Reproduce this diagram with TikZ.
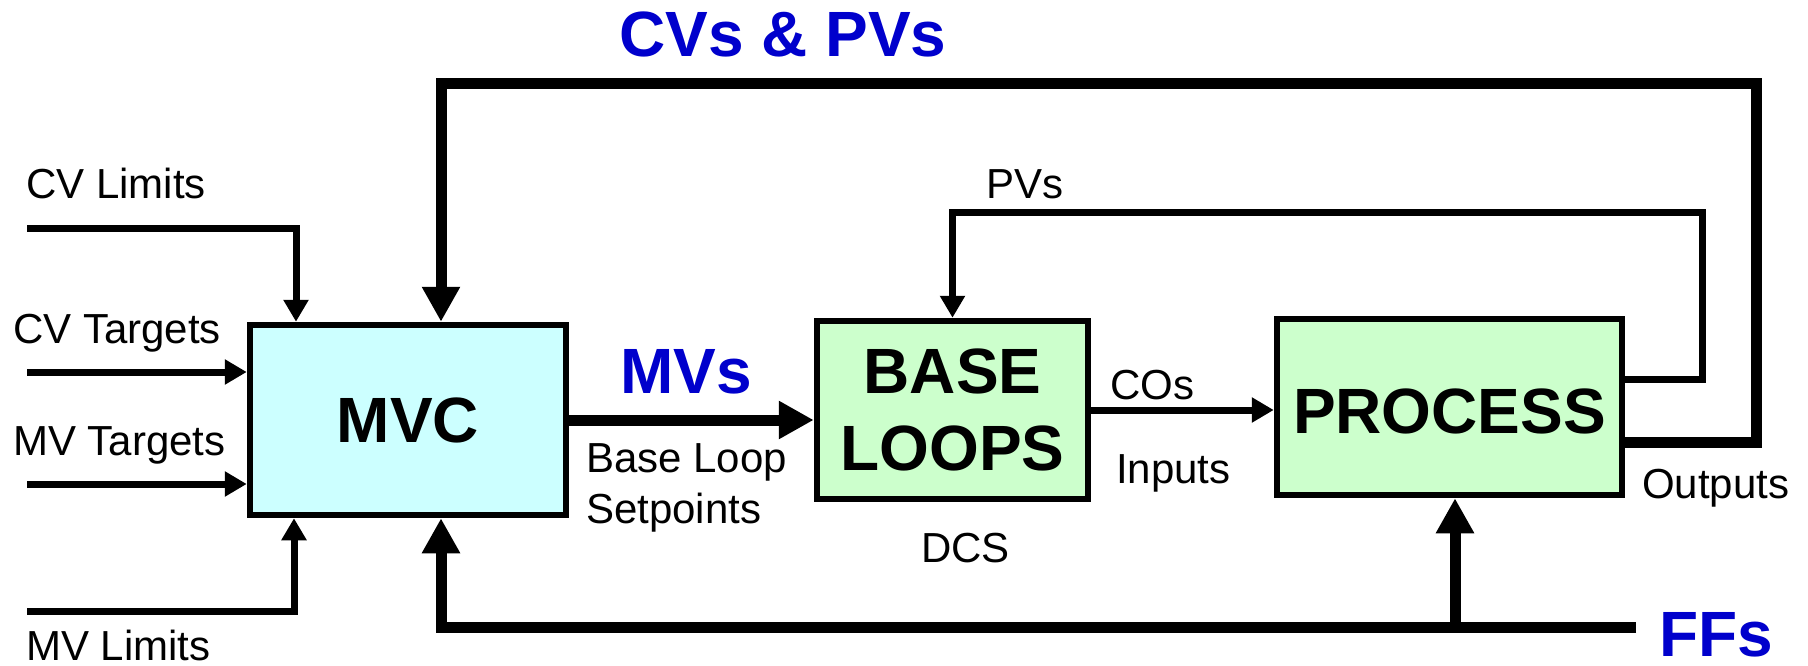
\documentclass[tikz,border=0pt]{standalone}
\usepackage{fontspec}
\setmainfont{Liberation Sans}
\usepackage{xcolor}
\usepackage{tikz}
\usetikzlibrary{positioning, arrows.meta, calc}
\definecolor{mvcyan}{RGB}{204, 255, 255}
\definecolor{dcsgreen}{RGB}{204, 255, 204}
\definecolor{sigblue}{RGB}{0, 0, 204}
\newcommand{\lblfont}{\fontsize{42}{51}\selectfont}
\newcommand{\blkfont}{\fontsize{64}{77}\selectfont\bfseries}
\tikzset{
  block/.style={
    draw=black, line width=6.5pt,
    inner sep=0pt, font=\blkfont, align=center,
  },
  sig/.style={draw=black, line width=7pt, -{Triangle[length=22pt, width=24pt]}},
  bus/.style={draw=black, line width=11pt, -{Triangle[length=35pt, width=36pt]}},
  lbl/.style={font=\lblfont, inner sep=0pt, anchor=base west},
  tag/.style={font=\blkfont, text=sigblue, inner sep=0pt, anchor=base west},
}

\begin{document}
\begin{tikzpicture}[x=1pt, y=-1pt]
\useasboundingbox (0,0) rectangle (1808,666);

\node[block, fill=mvcyan, minimum width=316pt, minimum height=190pt] (mvc) at (408,420) {MVC};
\node[block, fill=dcsgreen, minimum width=271pt, minimum height=178pt,
      right=244.5pt of mvc, yshift=10pt] (base) {BASE\\LOOPS};
\node[block, fill=dcsgreen, minimum width=345pt, minimum height=176pt, text height=54pt,
      right=182.5pt of base, yshift=3pt] (proc) {PROCESS};

\node[lbl] (cvlim) at (26,199) {CV Limits};
\node[lbl] (cvtgt) at (13,343) {CV Targets};
\node[lbl] (mvtgt) at (13,455) {MV Targets};
\node[lbl] (mvlim) at (26,660) {MV Limits};
\node[lbl, anchor=north west, align=left] (blsp) at (586,443) {Base Loop\\Setpoints};
\node[lbl] (dcs) at (921,562) {DCS};
\node[lbl] (cos) at (1110,399) {COs};
\node[lbl] (inp) at (1116,483) {Inputs};
\node[lbl] (pvs) at (986,199) {PVs};
\node[lbl] (outp) at (1642,498) {Outputs};
\node[tag] (mvs) at (620,393) {MVs};
\node[tag] (cvpv) at (619,57) {CVs \& PVs};
\node[tag] (ffs) at (1659,656) {FFs};

\coordinate (cvlA) at (27,228);
\coordinate (cvlB) at (296,228);
\coordinate (cvtA) at (27,372);
\coordinate (mvtA) at (27,484);
\coordinate (mvlA) at (27,611);
\coordinate (mvlB) at (294,611);
\coordinate (topR) at (1756,84);
\coordinate (topL) at (441,84);
\coordinate (pvR) at (1702,212);
\coordinate (botR) at (1636,627);
\coordinate (botL) at (441,627);
\coordinate (ffUp) at (1455,627);

% inputs into MVC
\draw[sig] (cvlA) -- (cvlB) -- (cvlB |- mvc.north);
\draw[sig] (cvtA) -- (cvtA -| mvc.west);
\draw[sig] (mvtA) -- (mvtA -| mvc.west);
\draw[sig] (mvlA) -- (mvlB) -- (mvlB |- mvc.south);

% forward path
\draw[bus] (mvc.east) -- (mvc.east -| base.west);
\draw[sig] (base.east) -- (base.east -| proc.west);

% feedback loops
\draw[sig] (proc.east |- 0,379) -| (pvR) -- (base.north |- pvR) -- (base.north);
\draw[bus] (proc.east |- 0,442) -| (topR) -- (topL) -- (topL |- mvc.north);
\draw[bus] (botR) -- (botL) -- (botL |- mvc.south);
\draw[bus] (ffUp) -- (ffUp |- proc.south);

\end{tikzpicture}
\end{document}
